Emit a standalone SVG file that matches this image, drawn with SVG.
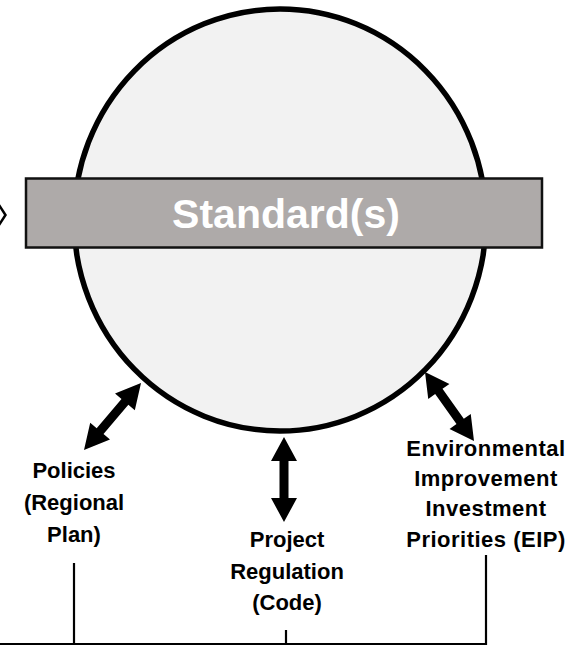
<svg xmlns="http://www.w3.org/2000/svg" width="577" height="646" viewBox="0 0 577 646">
  <style>
    .lbl { font-family: "Liberation Sans", Arial, sans-serif; font-weight: bold; font-size: 22px; fill: #000; text-anchor: middle; }
    .title { font-family: "Liberation Sans", Arial, sans-serif; font-weight: bold; font-size: 41px; fill: #ffffff; text-anchor: middle; }
    .dbl { fill: #000; }
    .ln { stroke: #000; stroke-width: 2.2; fill: none; }
  </style>
  <defs>
    <polygon id="arrow85" points="0,0 24,-13 24,-4.5 61,-4.5 61,-13 85,0 61,13 61,4.5 24,4.5 24,13"/>
  </defs>
  <rect width="577" height="646" fill="#ffffff"/>

  <g id="prev-chevron">
    <polyline points="-3,202 5.5,215 -3,228" fill="none" stroke="#000" stroke-width="2.5"/>
  </g>

  <g id="node-circle">
    <ellipse cx="280" cy="220" rx="206" ry="211" fill="#F2F2F2" stroke="#000" stroke-width="5.5"/>
  </g>

  <g id="node-standards">
    <rect x="26" y="178.5" width="516" height="69" fill="#AEAAA9" stroke="#111" stroke-width="2.5"/>
    <text class="title" x="286" y="228">Standard(s)</text>
  </g>

  <g id="connectors">
    <use href="#arrow85" class="dbl" transform="translate(84,450) rotate(-49.6) scale(1.035,1)"/>
    <use href="#arrow85" class="dbl" transform="translate(284,437) rotate(90)"/>
    <use href="#arrow85" class="dbl" transform="translate(425,372) rotate(54.6) scale(0.995,1)"/>
    <line class="ln" x1="74" y1="563" x2="74" y2="645"/>
    <line class="ln" x1="286" y1="630" x2="286" y2="645"/>
    <line class="ln" x1="486" y1="555" x2="486" y2="645"/>
    <line class="ln" x1="0" y1="644" x2="487" y2="644"/>
  </g>

  <g id="node-policies">
    <text class="lbl" x="74" y="478">Policies</text>
    <text class="lbl" x="74" y="510">(Regional</text>
    <text class="lbl" x="74" y="542">Plan)</text>
  </g>

  <g id="node-code">
    <text class="lbl" x="287" y="547">Project</text>
    <text class="lbl" x="287" y="578.5">Regulation</text>
    <text class="lbl" x="287" y="610">(Code)</text>
  </g>

  <g id="node-eip">
    <text class="lbl" x="486" y="455.5" letter-spacing="0.5">Environmental</text>
    <text class="lbl" x="486" y="486" letter-spacing="0.5">Improvement</text>
    <text class="lbl" x="486" y="516" letter-spacing="0.5">Investment</text>
    <text class="lbl" x="486" y="546.5" letter-spacing="0.5">Priorities (EIP)</text>
  </g>
</svg>
